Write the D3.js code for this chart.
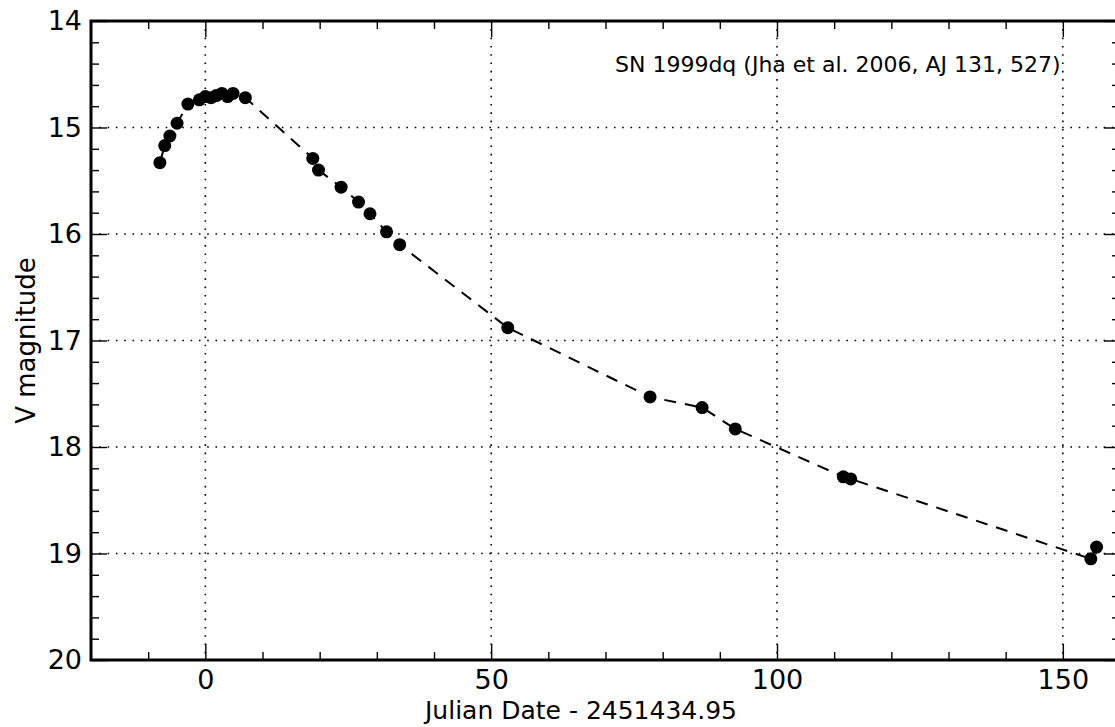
<!DOCTYPE html>
<html>
<head>
<meta charset="utf-8">
<script src="https://cdn.jsdelivr.net/npm/d3@7"></script>
<style>
  html, body { margin: 0; padding: 0; background: #fff; overflow: hidden; }
  svg { display: block; font-family: "DejaVu Sans", sans-serif; }
</style>
</head>
<body>
<div id="chart"></div>
<script>
// days relative to JD 2451434.95
const days = [-7.95, -7.1, -6.2, -4.95, -3.05, -1.05, 0.0, 1.0, 1.9, 2.9, 3.9, 4.85, 7.0,
  18.8, 19.8, 23.75, 26.8, 28.8, 31.7, 34.0, 52.9, 77.8, 86.9, 92.7, 111.6, 112.9, 154.9, 155.9];
// V band magnitudes
const mags = [15.33, 15.17, 15.08, 14.96, 14.78, 14.74, 14.71, 14.72, 14.70, 14.68, 14.71, 14.68, 14.72,
  15.29, 15.40, 15.56, 15.70, 15.81, 15.98, 16.10, 16.88, 17.53, 17.63, 17.83, 18.28, 18.30, 19.05, 18.94];

const xTicks = [0, 50, 100, 150];
const xMinor = [-10, 10, 20, 30, 40, 60, 70, 80, 90, 110, 120, 130, 140];
const yTicks = [14, 15, 16, 17, 18, 19, 20];
const yMinor = d3.range(14, 20.01, 0.2).filter(v => Math.abs(v - Math.round(v)) > 0.01);

const width = 1115, height = 727;
const margin = { top: 21, right: -5, bottom: 67, left: 91 };

const svg = d3.select('#chart').append('svg')
    .attr('width', width)
    .attr('height', height);

const x = d3.scaleLinear()
    .domain([-20, 160])
    .range([margin.left, width - margin.right]);

const y = d3.scaleLinear()
    .domain([14, 20])
    .range([margin.top, height - margin.bottom]);

const x0 = x.range()[0], x1 = x.range()[1];
const y0 = y.range()[0], y1 = y.range()[1];

// gridlines
const grid = svg.append('g').attr('class', 'grid')
    .attr('stroke', '#000')
    .attr('stroke-width', 1.6)
    .attr('stroke-dasharray', '1.6,6.7');
grid.selectAll('line.gx')
    .data(xTicks)
    .join('line')
    .attr('class', 'gx')
    .attr('x1', d => x(d)).attr('x2', d => x(d))
    .attr('y1', y0).attr('y2', y1);
grid.selectAll('line.gy')
    .data(yTicks.slice(1, -1))
    .join('line')
    .attr('class', 'gy')
    .attr('x1', x0).attr('x2', x1)
    .attr('y1', d => y(d)).attr('y2', d => y(d));

// axes with ticks pointing inward
const styleAxis = g => {
    g.select('.domain').remove();
    g.selectAll('.tick line').attr('stroke', '#000').attr('stroke-width', 1.4);
    g.selectAll('.tick text')
        .attr('fill', '#000')
        .style('font-size', '27px')
        .style('font-family', '"DejaVu Sans", sans-serif');
};

svg.append('g')
    .attr('transform', `translate(0,${y1})`)
    .call(d3.axisBottom(x).tickValues(xTicks).tickSize(-16).tickPadding(10).tickFormat(d3.format('d')))
    .call(styleAxis);
svg.append('g')
    .attr('transform', `translate(0,${y1})`)
    .call(d3.axisBottom(x).tickValues(xMinor).tickSize(-8).tickFormat(''))
    .call(styleAxis);
svg.append('g')
    .attr('transform', `translate(0,${y0})`)
    .call(d3.axisTop(x).tickValues(xTicks).tickSize(-16).tickFormat(''))
    .call(styleAxis);
svg.append('g')
    .attr('transform', `translate(0,${y0})`)
    .call(d3.axisTop(x).tickValues(xMinor).tickSize(-8).tickFormat(''))
    .call(styleAxis);

svg.append('g')
    .attr('transform', `translate(${x0},0)`)
    .call(d3.axisLeft(y).tickValues(yTicks).tickSize(-16).tickPadding(9).tickFormat(d3.format('d')))
    .call(styleAxis);
svg.append('g')
    .attr('transform', `translate(${x0},0)`)
    .call(d3.axisLeft(y).tickValues(yMinor).tickSize(-8).tickFormat(''))
    .call(styleAxis);
svg.append('g')
    .attr('transform', `translate(${x1},0)`)
    .call(d3.axisRight(y).tickValues(yTicks).tickSize(-16).tickFormat(''))
    .call(styleAxis);
svg.append('g')
    .attr('transform', `translate(${x1},0)`)
    .call(d3.axisRight(y).tickValues(yMinor).tickSize(-8).tickFormat(''))
    .call(styleAxis);

// light curve
const pts = days.map((d, i) => ({ day: d, mag: mags[i] }));

const line = d3.line()
    .x(d => x(d.day))
    .y(d => y(d.mag));

svg.append('path')
    .datum(pts)
    .attr('fill', 'none')
    .attr('stroke', '#000')
    .attr('stroke-width', 2)
    .attr('stroke-dasharray', '12,9')
    .attr('d', line);

svg.append('g')
    .selectAll('circle')
    .data(pts)
    .join('circle')
    .attr('cx', d => x(d.day))
    .attr('cy', d => y(d.mag))
    .attr('r', 6.5)
    .attr('fill', '#000');

// frame
svg.append('rect')
    .attr('x', x0).attr('y', y0)
    .attr('width', x1 - x0).attr('height', y1 - y0)
    .attr('fill', 'none')
    .attr('stroke', '#000')
    .attr('stroke-width', 3);

// labels
svg.append('text')
    .attr('x', 581)
    .attr('y', 719)
    .attr('text-anchor', 'middle')
    .style('font-size', '25px')
    .text('Julian Date - 2451434.95');

svg.append('text')
    .attr('transform', `translate(35,${(y0 + y1) / 2}) rotate(-90)`)
    .attr('text-anchor', 'middle')
    .style('font-size', '26px')
    .text('V magnitude');

svg.append('text')
    .attr('x', 615)
    .attr('y', 72)
    .style('font-size', '22px')
    .text('SN 1999dq (Jha et al. 2006, AJ 131, 527)');
</script>
</body>
</html>
